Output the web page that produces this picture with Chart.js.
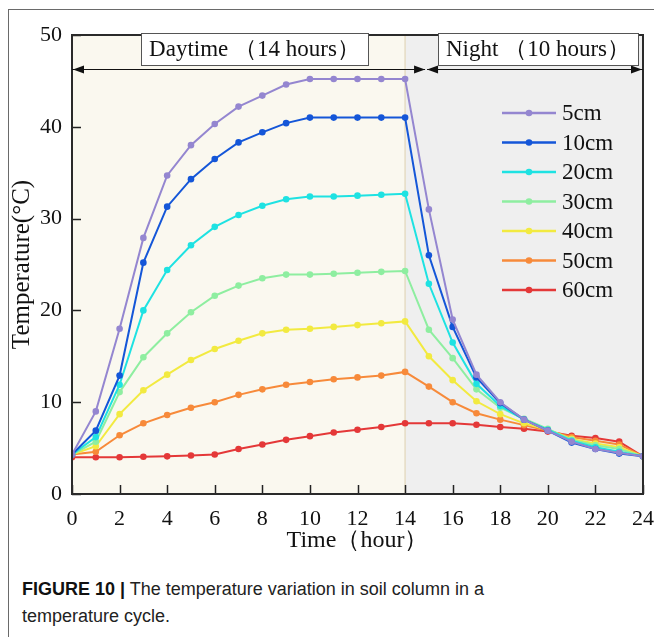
<!DOCTYPE html>
<html>
<head>
<meta charset="utf-8">
<script src="https://cdn.jsdelivr.net/npm/chart.js@4.4.1/dist/chart.umd.min.js"></script>
<style>
  html, body { margin: 0; padding: 0; background: #ffffff; }
  body { width: 654px; height: 637px; position: relative; overflow: hidden; }
  #frame { position: absolute; left: 8px; top: 9px; width: 660px; height: 640px;
           border-left: 1px solid #6a6a6a; border-top: 1px solid #6a6a6a; }
  #c { position: absolute; left: 0; top: 0; }
  #caption { position: absolute; left: 22px; top: 576px; width: 560px;
             font-family: "Liberation Sans Narrow", "Liberation Sans", Arial, sans-serif;
             font-size: 18px; line-height: 27px; color: #222; }
  #caption b { color: #111; }
</style>
</head>
<body>
<div id="frame"></div>
<canvas id="c" width="654" height="560"></canvas>
<div id="caption"><b>FIGURE 10 |</b> The temperature variation in soil column in a<br>temperature cycle.</div>
<script>
// ---- data ----
const hours = [0,1,2,3,4,5,6,7,8,9,10,11,12,13,14,15,16,17,18,19,20,21,22,23,24];
const seriesLabels = ['5cm','10cm','20cm','30cm','40cm','50cm','60cm'];
const temp5cm  = [4.3, 9.0, 18.0, 27.9, 34.7, 38.0, 40.3, 42.2, 43.4, 44.6, 45.2, 45.2, 45.2, 45.2, 45.2, 31.0, 19.0, 13.0, 10.0, 8.1, 6.9, 5.7, 4.9, 4.5, 4.1];
const temp10cm = [4.3, 6.9, 12.9, 25.2, 31.3, 34.3, 36.5, 38.3, 39.4, 40.4, 41.0, 41.0, 41.0, 41.0, 41.0, 26.0, 18.2, 12.7, 9.9, 8.1, 6.9, 5.6, 4.9, 4.4, 4.1];
const temp20cm = [4.3, 6.2, 11.9, 20.0, 24.4, 27.1, 29.1, 30.4, 31.4, 32.1, 32.4, 32.4, 32.5, 32.6, 32.7, 22.9, 16.5, 12.0, 9.6, 8.1, 7.0, 5.8, 5.1, 4.6, 4.1];
const temp30cm = [4.3, 5.7, 11.1, 14.9, 17.5, 19.8, 21.6, 22.7, 23.5, 23.9, 23.9, 24.0, 24.1, 24.2, 24.3, 17.9, 14.8, 11.4, 9.4, 8.2, 7.1, 5.9, 5.3, 4.9, 4.1];
const temp40cm = [4.3, 5.2, 8.7, 11.3, 13.0, 14.6, 15.8, 16.7, 17.5, 17.9, 18.0, 18.2, 18.4, 18.6, 18.8, 15.0, 12.4, 10.1, 8.7, 7.7, 7.0, 6.0, 5.5, 5.1, 4.1];
const temp50cm = [4.3, 4.6, 6.4, 7.7, 8.6, 9.4, 10.0, 10.8, 11.4, 11.9, 12.2, 12.5, 12.7, 12.9, 13.3, 11.7, 10.0, 8.8, 8.1, 7.5, 6.9, 6.2, 5.8, 5.4, 4.1];
const temp60cm = [4.0, 4.0, 4.0, 4.05, 4.1, 4.2, 4.3, 4.9, 5.4, 5.9, 6.3, 6.7, 7.0, 7.3, 7.7, 7.7, 7.7, 7.55, 7.3, 7.1, 6.8, 6.35, 6.1, 5.7, 4.1];
const dayHours = 14;      // daytime period 0-14 h
const totalHours = 24;
const xTicks = [0,2,4,6,8,10,12,14,16,18,20,22,24];
const yTicks = [0,10,20,30,40,50];
const periodLabels = ['Daytime （14 hours）', 'Night （10 hours）'];

const allSeries = [temp5cm, temp10cm, temp20cm, temp30cm, temp40cm, temp50cm, temp60cm];
const colors = ['#9486d0', '#1456d8', '#1ee2e2', '#8eeea0', '#f2ea40', '#f78a3a', '#e43838'];

const SERIF = '"Liberation Serif", "Times New Roman", serif';

const datasets = allSeries.map((arr, i) => ({
  label: seriesLabels[i],
  data: arr.map((v, j) => ({x: hours[j], y: v})),
  borderColor: colors[i],
  backgroundColor: colors[i],
  borderWidth: 2,
  pointRadius: 3.3,
  pointHoverRadius: 3.3,
  pointBorderWidth: 0,
  tension: 0,
  fill: false
}));

const bgPlugin = {
  id: 'bg',
  beforeDatasetsDraw(chart) {
    const {ctx, chartArea: a, scales: {x}} = chart;
    const xd = x.getPixelForValue(dayHours);
    ctx.save();
    ctx.fillStyle = '#faf8ef';
    ctx.fillRect(a.left, a.top, xd - a.left, a.bottom - a.top);
    ctx.fillStyle = '#efefef';
    ctx.fillRect(xd, a.top, a.right - xd, a.bottom - a.top);
    ctx.strokeStyle = '#e6dcc4';
    ctx.lineWidth = 1.5;
    ctx.beginPath(); ctx.moveTo(xd, a.top); ctx.lineTo(xd, a.bottom); ctx.stroke();
    ctx.restore();
  }
};

function arrowHead(ctx, x, y, dir) {
  ctx.beginPath();
  ctx.moveTo(x, y);
  ctx.lineTo(x - dir * 11, y - 4);
  ctx.lineTo(x - dir * 11, y + 4);
  ctx.closePath();
  ctx.fill();
}

const overlayPlugin = {
  id: 'overlay',
  afterDatasetsDraw(chart) {
    const {ctx, chartArea: a, scales: {x, y}} = chart;
    ctx.save();
    // inward ticks
    ctx.strokeStyle = '#222';
    ctx.lineWidth = 1.5;
    xTicks.forEach(t => {
      const px = Math.round(x.getPixelForValue(t)) + 0.5;
      ctx.beginPath(); ctx.moveTo(px, a.bottom); ctx.lineTo(px, a.bottom - 9); ctx.stroke();
    });
    yTicks.forEach(t => {
      const py = Math.round(y.getPixelForValue(t)) + 0.5;
      ctx.beginPath(); ctx.moveTo(a.left, py); ctx.lineTo(a.left + 9, py); ctx.stroke();
    });
    // plot border
    ctx.strokeStyle = '#2a2a2a';
    ctx.lineWidth = 2;
    ctx.strokeRect(a.left, a.top, a.right - a.left, a.bottom - a.top);

    // period arrows
    const ay = 69.5;
    const xd = x.getPixelForValue(dayHours);
    const mid = xd + 21;
    ctx.strokeStyle = '#111';
    ctx.fillStyle = '#111';
    ctx.lineWidth = 1.2;
    ctx.beginPath(); ctx.moveTo(a.left, ay); ctx.lineTo(mid - 1, ay); ctx.stroke();
    ctx.beginPath(); ctx.moveTo(mid + 1, ay); ctx.lineTo(a.right, ay); ctx.stroke();
    arrowHead(ctx, a.left + 1, ay, -1);
    arrowHead(ctx, mid - 1, ay, 1);
    arrowHead(ctx, mid + 1, ay, -1);
    arrowHead(ctx, a.right - 1, ay, 1);

    // label boxes
    const boxes = [
      {x0: 141, x1: 368, text: periodLabels[0]},
      {x0: 438, x1: 638, text: periodLabels[1]}
    ];
    ctx.font = '23px ' + SERIF;
    ctx.textAlign = 'center';
    ctx.textBaseline = 'middle';
    boxes.forEach(b => {
      ctx.fillStyle = '#ffffff';
      ctx.fillRect(b.x0, 33, b.x1 - b.x0, 32);
      ctx.strokeStyle = '#555';
      ctx.lineWidth = 1;
      ctx.strokeRect(b.x0 + 0.5, 33.5, b.x1 - b.x0, 32);
      ctx.fillStyle = '#111';
      ctx.fillText(b.text, (b.x0 + b.x1) / 2, 50);
    });

    // legend
    const lx0 = 502, lx1 = 556, ltx = 562;
    let ly = 113;
    ctx.font = '23px ' + SERIF;
    ctx.textAlign = 'left';
    chart.data.datasets.forEach(ds => {
      ctx.strokeStyle = ds.borderColor;
      ctx.fillStyle = ds.borderColor;
      ctx.lineWidth = 2.5;
      ctx.beginPath(); ctx.moveTo(lx0, ly); ctx.lineTo(lx1, ly); ctx.stroke();
      ctx.beginPath(); ctx.arc((lx0 + lx1) / 2, ly, 3.3, 0, Math.PI * 2); ctx.fill();
      ctx.fillStyle = '#111';
      ctx.fillText(ds.label, ltx, ly + 1);
      ly += 29.5;
    });
    ctx.restore();
  }
};

new Chart(document.getElementById('c'), {
  type: 'line',
  data: { datasets },
  options: {
    responsive: false,
    animation: false,
    devicePixelRatio: 1,
    layout: { padding: { left: 0, right: 11, top: 35, bottom: 0 } },
    plugins: { legend: { display: false }, tooltip: { enabled: false } },
    scales: {
      x: {
        type: 'linear', min: 0, max: totalHours,
        afterFit(s) { s.height = 66; s.paddingLeft = 0; s.paddingRight = 0; },
        afterBuildTicks(s) { s.ticks = xTicks.map(v => ({value: v})); },
        grid: { display: false, drawTicks: false },
        border: { display: false },
        ticks: { font: { family: SERIF, size: 22 }, color: '#111', padding: 12, maxRotation: 0 },
        title: { display: true, text: 'Time（hour）', font: { family: SERIF, size: 24 }, color: '#111',
                 padding: { top: 0, bottom: 5 } }
      },
      y: {
        min: 0, max: 50,
        afterFit(s) { s.width = 72; },
        afterBuildTicks(s) { s.ticks = yTicks.map(v => ({value: v})); },
        grid: { display: false, drawTicks: false },
        border: { display: false },
        ticks: { font: { family: SERIF, size: 22 }, color: '#111', padding: 10 },
        title: { display: true, text: 'Temperature(°C)', font: { family: SERIF, size: 25 }, color: '#111',
                 padding: { top: 7, bottom: 0 } }
      }
    }
  },
  plugins: [bgPlugin, overlayPlugin]
});
</script>
</body>
</html>
